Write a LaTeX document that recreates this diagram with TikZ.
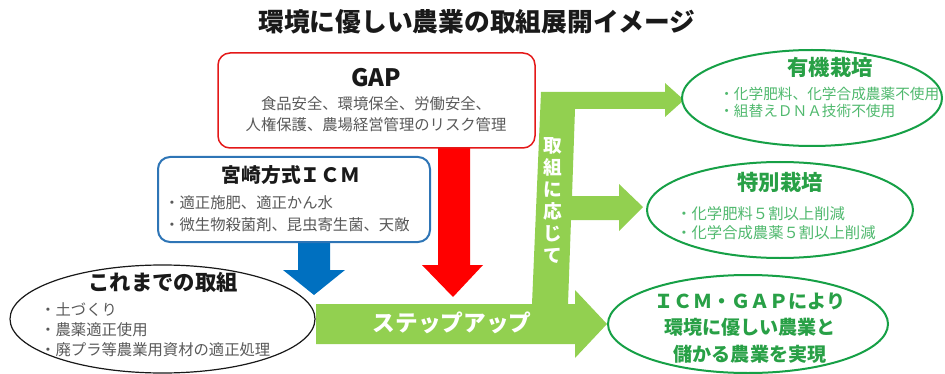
\documentclass[tikz,border=0pt]{standalone}
\usepackage{fontspec}
\setmainfont{Noto Sans CJK JP}
\usetikzlibrary{shapes.geometric}

\newlength\px
\setlength\px{0.75pt}

\definecolor{gapred}{RGB}{228,24,24}
\definecolor{arrowred}{RGB}{255,0,0}
\definecolor{icmblue}{RGB}{46,117,182}
\definecolor{arrowblue}{RGB}{0,112,192}
\definecolor{stepgreen}{RGB}{146,208,80}
\definecolor{ringgreen}{RGB}{22,160,70}
\definecolor{headgreen}{RGB}{40,160,70}
\definecolor{itemgreen}{RGB}{80,185,110}
\definecolor{itemgray}{RGB}{89,89,89}
\definecolor{headblack}{RGB}{25,25,25}

\tikzset{
  panel/.style={draw, fill=white, line width=1.5\px, rounded corners=12\px, inner sep=0pt},
  ring/.style={draw, fill=white, ellipse, line width=2\px, inner sep=0pt},
  head/.style={font=\bfseries\fontsize{16}{19}\selectfont, text=headblack, inner sep=0pt},
  items/.style={font=\fontsize{11.5}{15.5}\selectfont, text=itemgray, align=left, inner sep=0pt, anchor=west},
  onarrow/.style={font=\bfseries\fontsize{17}{20}\selectfont, text=white, inner sep=0pt},
}

\begin{document}
\begin{tikzpicture}[x=1\px, y=-1\px]
    \useasboundingbox (0,0) rectangle (945,374);

    % title
    \node[font=\bfseries\fontsize{19.3}{23}\selectfont, text=headblack] (title) at (477,22) {環境に優しい農業の取組展開イメージ};

    % big arrows
    \fill[stepgreen] (316,304) -- (532,304) -- (541,92) -- (665,92) -- (665,83) -- (684,100)
        -- (665,117) -- (665,109) -- (575,109) -- (572,196) -- (619,196) -- (619,184)
        -- (643,207) -- (619,231) -- (619,220) -- (571,220) -- (568,304) -- (575,304)
        -- (575,290) -- (607,324) -- (575,358) -- (575,344) -- (316,344) -- cycle;
    \fill[arrowblue] (298,240) -- (330,240) -- (330,270) -- (345,270) -- (314,295) -- (283,270) -- (298,270) -- cycle;
    \fill[arrowred] (438,146) -- (470,146) -- (470,265) -- (483,265) -- (453,297) -- (422,265) -- (438,265) -- cycle;

    \node[onarrow] (stepup) at (452,323) {ステップアップ};
    \node[onarrow, font=\bfseries\fontsize{14}{16.5}\selectfont, align=center] (accord) at (553,200) {取\\組\\に\\応\\じ\\て};

    % GAP
    \node[panel, draw=gapred, minimum width=317\px, minimum height=95\px] (gap) at (376.5,100.5) {};
    \node[head, font=\bfseries\fontsize{18}{21}\selectfont] (gaphead) at (376,78) {GAP};
    \node[items, anchor=center, align=center] (gapitems) at (376,114.5) {食品安全、環境保全、労働安全、\\人権保護、農場経営管理のリスク管理};

    % ICM
    \node[panel, draw=icmblue, line width=2\px, minimum width=272\px, minimum height=85\px] (icm) at (294,199.5) {};
    \node[head, font=\bfseries\fontsize{14.8}{18}\selectfont] (icmhead) at (291,175) {宮崎方式ＩＣＭ};
    \node[items, font=\fontsize{11.5}{16.5}\selectfont] (icmitems) at (164,214) {・適正施肥、適正かん水\\・微生物殺菌剤、昆虫寄生菌、天敵};

    % up to now
    \node[ring, draw=headblack, line width=1.2\px, minimum width=305\px, minimum height=108\px] (sofar) at (162.5,319) {};
    \node[head] (sofarhead) at (163,282) {これまでの取組};
    \node[items, font=\fontsize{11.5}{15}\selectfont] (sofaritems) at (40,330) {・土づくり\\・農薬適正使用\\・廃プラ等農業用資材の適正処理};

    % organic
    \node[ring, draw=ringgreen, minimum width=260\px, minimum height=96\px] (organic) at (812,98) {};
    \node[head, text=headgreen] (organichead) at (830,67) {有機栽培};
    \node[items, text=itemgreen, font=\fontsize{11}{12.75}\selectfont] (organicitems) at (719,102) {・化学肥料、化学合成農薬不使用\\・組替えＤＮＡ技術不使用};

    % special
    \node[ring, draw=ringgreen, minimum width=266\px, minimum height=96\px] (special) at (780,210) {};
    \node[head, text=headgreen] (specialhead) at (780,182) {特別栽培};
    \node[items, text=itemgreen, font=\fontsize{11.5}{14.25}\selectfont] (specialitems) at (676,223.5) {・化学肥料５割以上削減\\・化学合成農薬５割以上削減};

    % goal
    \node[ring, draw=ringgreen, minimum width=280\px, minimum height=98\px] (goal) at (748,324) {};
    \node[head, text=headgreen, font=\bfseries\fontsize{14.3}{20}\selectfont, align=center] (goaltext) at (750,328) {ＩＣＭ・ＧＡＰにより\\環境に優しい農業と\\儲かる農業を実現};
\end{tikzpicture}
\end{document}
